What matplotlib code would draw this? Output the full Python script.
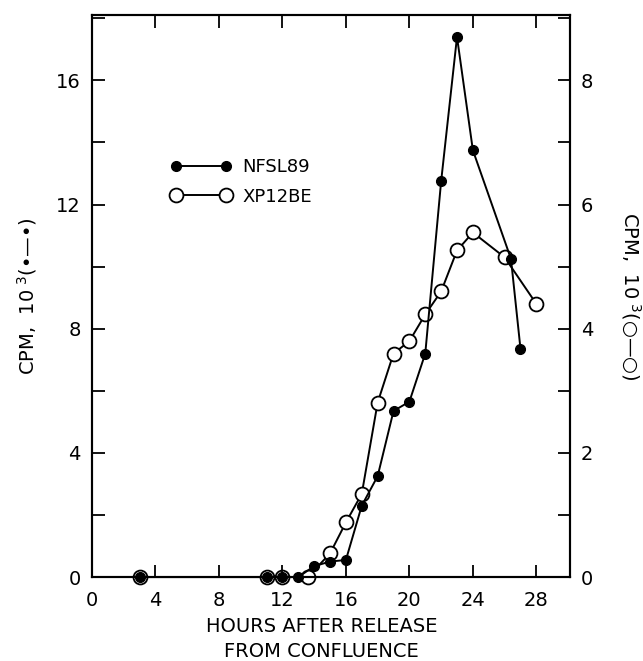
import matplotlib
matplotlib.use("Agg")
import matplotlib.pyplot as plt
from matplotlib.ticker import MultipleLocator, FixedLocator

plt.rcParams['font.family'] = ['DejaVu Sans']

# Data
hours_nfsl = [3, 11, 12, 13, 14, 15, 16, 17, 18, 19, 20, 21, 22, 23, 24, 26.4, 27]
cpm_nfsl = [0, 0, 0, 0, 0.35, 0.5, 0.55, 2.3, 3.25, 5.35, 5.65, 7.2, 12.75, 17.4, 13.75, 10.25, 7.35]

hours_xp = [3, 11, 12, 13.6, 15, 16, 17, 18, 19, 20, 21, 22, 23, 24, 26, 28]
cpm_xp = [0, 0, 0, 0, 0.38, 0.88, 1.34, 2.81, 3.6, 3.8, 4.23, 4.6, 5.26, 5.55, 5.15, 4.4]

x_ticks = [0, 4, 8, 12, 16, 20, 24, 28]
left_ticks = [0, 4, 8, 12, 16]
right_ticks = [0, 2, 4, 6, 8]

fig = plt.figure(figsize=(6.43, 6.61), dpi=100)
ax = fig.add_axes([0.143, 0.127, 0.743, 0.850])
ax2 = ax.twinx()
ax.set_zorder(ax2.get_zorder() + 1)
ax.patch.set_visible(False)

fs = 14
ax2.plot(hours_xp, cpm_xp, color='black', lw=1.4, marker='o', ms=10,
         mfc='white', mec='black', mew=1.3, label='XP12BE', clip_on=False)
ax.plot(hours_nfsl, cpm_nfsl, color='black', lw=1.4, marker='o', ms=7,
        mfc='black', mec='black', label='NFSL89', clip_on=False)

ax.set_xlim(0, 30.1)
ax.set_ylim(0, 18.1)
ax2.set_ylim(0, 9.05)

ax.xaxis.set_major_locator(FixedLocator(x_ticks))
ax.yaxis.set_major_locator(FixedLocator(left_ticks))
ax.yaxis.set_minor_locator(MultipleLocator(2))
ax2.yaxis.set_major_locator(FixedLocator(right_ticks))
ax2.yaxis.set_minor_locator(MultipleLocator(1))

ax.tick_params(axis='x', which='both', direction='in', top=True, length=9, width=1.3,
               labelsize=fs, pad=10)
ax.tick_params(axis='y', which='both', direction='in', length=9, width=1.3,
               labelsize=fs, pad=8)
ax2.tick_params(axis='y', which='both', direction='in', length=9, width=1.3,
                labelsize=fs, pad=8)
for a in (ax, ax2):
    for s in a.spines.values():
        s.set_linewidth(1.5)

ax.set_xlabel('HOURS AFTER RELEASE\nFROM CONFLUENCE', fontsize=fs,
              linespacing=1.38)
ax.xaxis.set_label_coords(0.48, -0.071, transform=ax.transAxes)
ax.xaxis.label.set_va('top')
ax.set_ylabel('CPM,  10$^{\\ 3}$(•—•)', fontsize=fs, labelpad=12)
ax2.set_ylabel('CPM,  10$^{\\ 3}$(○—○)', fontsize=fs, rotation=270, labelpad=36)

h1, l1 = ax.get_legend_handles_labels()
h2, l2 = ax2.get_legend_handles_labels()
leg = ax.legend(h1 + h2, l1 + l2, loc='upper left', bbox_to_anchor=(0.145, 0.762),
                frameon=False, numpoints=2, handlelength=3.4, handletextpad=0.6,
                labelspacing=0.65, fontsize=13, borderpad=0)

fig.savefig('out.png', dpi=100)
